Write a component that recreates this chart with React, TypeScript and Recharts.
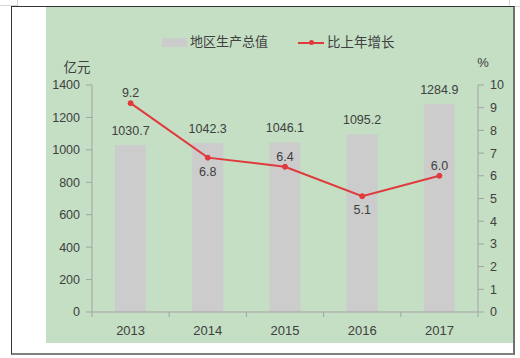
import React from 'react';
import { ComposedChart, Bar, Line, XAxis, YAxis, LabelList, Legend } from 'recharts';

const years = ['2013', '2014', '2015', '2016', '2017'];
const gdp = [1030.7, 1042.3, 1046.1, 1095.2, 1284.9];
const growth = [9.2, 6.8, 6.4, 5.1, 6.0];
const leftTicks = [0, 200, 400, 600, 800, 1000, 1200, 1400];
const rightTicks = [0, 1, 2, 3, 4, 5, 6, 7, 8, 9, 10];
const growthLabelSide = ['top', 'bottom', 'top', 'bottom', 'top'];

const data = years.map((y, i) => ({ year: y, gdp: gdp[i], growth: growth[i] }));

const NUM_FONT = '"Liberation Sans", Arial, sans-serif';
const CJK_FONT = '"Noto Sans CJK SC", "Noto Sans", sans-serif';
const TEXT = '#404040';
const AXIS = '#a3a3a3';
const GREEN = '#c4dfc4';
const BAR = '#cccccc';
const RED = '#e03a3c';

const XTick = (props: any) => {
  const { x, y, payload, index } = props;
  const axisY = y - 9;
  const half = payload.offset || 0;
  return (
    <g>
      <line x1={x - half} x2={x - half} y1={axisY} y2={axisY + 5} stroke={AXIS} strokeWidth={1} />
      {index === years.length - 1 && (
        <line x1={x + half} x2={x + half} y1={axisY} y2={axisY + 5} stroke={AXIS} strokeWidth={1} />
      )}
      <text x={x} y={y} dy={14} textAnchor="middle" fill={TEXT} fontSize={13} fontFamily={NUM_FONT}>
        {payload.value}
      </text>
    </g>
  );
};

const GrowthLabel = (props: any) => {
  const { x, y, value, index } = props;
  const below = growthLabelSide[index] === 'bottom';
  return (
    <text
      x={x}
      y={below ? y + 18 : y - 6}
      textAnchor="middle"
      fill={TEXT}
      fontSize={12.5}
      fontFamily={NUM_FONT}
    >
      {Number(value).toFixed(1)}
    </text>
  );
};

const LegendContent = () => (
  <div style={{ position: 'relative', height: 20, width: 520 }}>
    <div style={{ position: 'absolute', left: 162, top: 7, width: 25, height: 9, background: BAR }} />
    <span
      style={{
        position: 'absolute',
        left: 190,
        top: 0,
        fontFamily: CJK_FONT,
        fontSize: 13,
        color: TEXT,
        lineHeight: '20px',
        whiteSpace: 'nowrap',
      }}
    >
      地区生产总值
    </span>
    <div style={{ position: 'absolute', left: 298, top: 10.5, width: 26, height: 2, background: RED }} />
    <div
      style={{
        position: 'absolute',
        left: 309,
        top: 9,
        width: 5,
        height: 5,
        borderRadius: 3,
        background: RED,
      }}
    />
    <span
      style={{
        position: 'absolute',
        left: 327,
        top: 0,
        fontFamily: CJK_FONT,
        fontSize: 13.5,
        color: TEXT,
        lineHeight: '20px',
        whiteSpace: 'nowrap',
      }}
    >
      比上年增长
    </span>
  </div>
);

const LeftUnit = (props: any) => {
  const vb = props.viewBox || {};
  return (
    <text
      x={vb.x + vb.width - 15}
      y={vb.y - 13}
      textAnchor="middle"
      fill={TEXT}
      fontSize={13.5}
      fontFamily={CJK_FONT}
    >
      亿元
    </text>
  );
};

const RightUnit = (props: any) => {
  const vb = props.viewBox || {};
  return (
    <text x={vb.x + 5} y={vb.y - 18} textAnchor="middle" fill={TEXT} fontSize={13} fontFamily={NUM_FONT}>
      %
    </text>
  );
};

export default function App() {
  return (
    <div style={{ position: 'absolute', left: 0, top: 0, width: 520, height: 358, background: '#ffffff', overflow: 'hidden' }}>
      <div style={{ position: 'absolute', left: 0, top: 0, width: 17, height: 5, borderRight: '1px solid #d4d4d4', borderBottom: '1px solid #d4d4d4' }} />
      <div style={{ position: 'absolute', left: 509, top: 0, width: 11, height: 6, borderLeft: '1px solid #d4d4d4', borderBottom: '1px solid #d4d4d4' }} />
      <div style={{ position: 'absolute', left: 46, top: 7, width: 467, height: 336, background: GREEN }} />
      <div
        style={{
          position: 'absolute',
          left: 11,
          top: 6,
          width: 504,
          height: 349,
          boxSizing: 'border-box',
          borderTop: '1px solid #333333',
          borderLeft: '1px solid #333333',
          borderRight: '2px solid #707070',
          borderBottom: '2px solid #808080',
        }}
      />
      <div style={{ position: 'absolute', left: 0, top: 0 }}>
        <ComposedChart width={520} height={358} data={data} margin={{ top: 85, right: 12, bottom: 16, left: 52 }}>
          <XAxis
            dataKey="year"
            height={30}
            axisLine={{ stroke: AXIS }}
            tickLine={false}
            tickSize={5}
            tickMargin={4}
            tick={<XTick />}
            interval={0}
          />
          <YAxis
            yAxisId="left"
            orientation="left"
            width={40}
            domain={[0, 1400]}
            ticks={leftTicks}
            interval={0}
            axisLine={{ stroke: AXIS }}
            tickLine={{ stroke: AXIS }}
            tickSize={6}
            tickMargin={6}
            tick={{ fill: TEXT, fontSize: 12.5, fontFamily: NUM_FONT }}
            label={{ content: <LeftUnit /> }}
          />
          <YAxis
            yAxisId="right"
            orientation="right"
            width={30}
            domain={[0, 10]}
            ticks={rightTicks}
            interval={0}
            axisLine={{ stroke: AXIS }}
            tickLine={{ stroke: AXIS }}
            tickSize={6}
            tickMargin={6}
            tick={{ fill: TEXT, fontSize: 12.5, fontFamily: NUM_FONT }}
            label={{ content: <RightUnit /> }}
          />
          <Legend
            layout="horizontal"
            verticalAlign="middle"
            align="center"
            wrapperStyle={{ left: 0, top: 31, width: 520, height: 20 }}
            content={<LegendContent />}
          />
          <Bar yAxisId="left" dataKey="gdp" name="地区生产总值" fill={BAR} barSize={31} isAnimationActive={false}>
            <LabelList
              dataKey="gdp"
              position="top"
              offset={10}
              fill={TEXT}
              fontSize={12.5}
              fontFamily={NUM_FONT}
              formatter={(v: any) => Number(v).toFixed(1)}
            />
          </Bar>
          <Line
            yAxisId="right"
            dataKey="growth"
            name="比上年增长"
            stroke={RED}
            strokeWidth={2}
            dot={{ r: 2.5, fill: RED, stroke: RED, strokeWidth: 1 }}
            isAnimationActive={false}
          >
            <LabelList dataKey="growth" content={<GrowthLabel />} />
          </Line>
        </ComposedChart>
      </div>
    </div>
  );
}
